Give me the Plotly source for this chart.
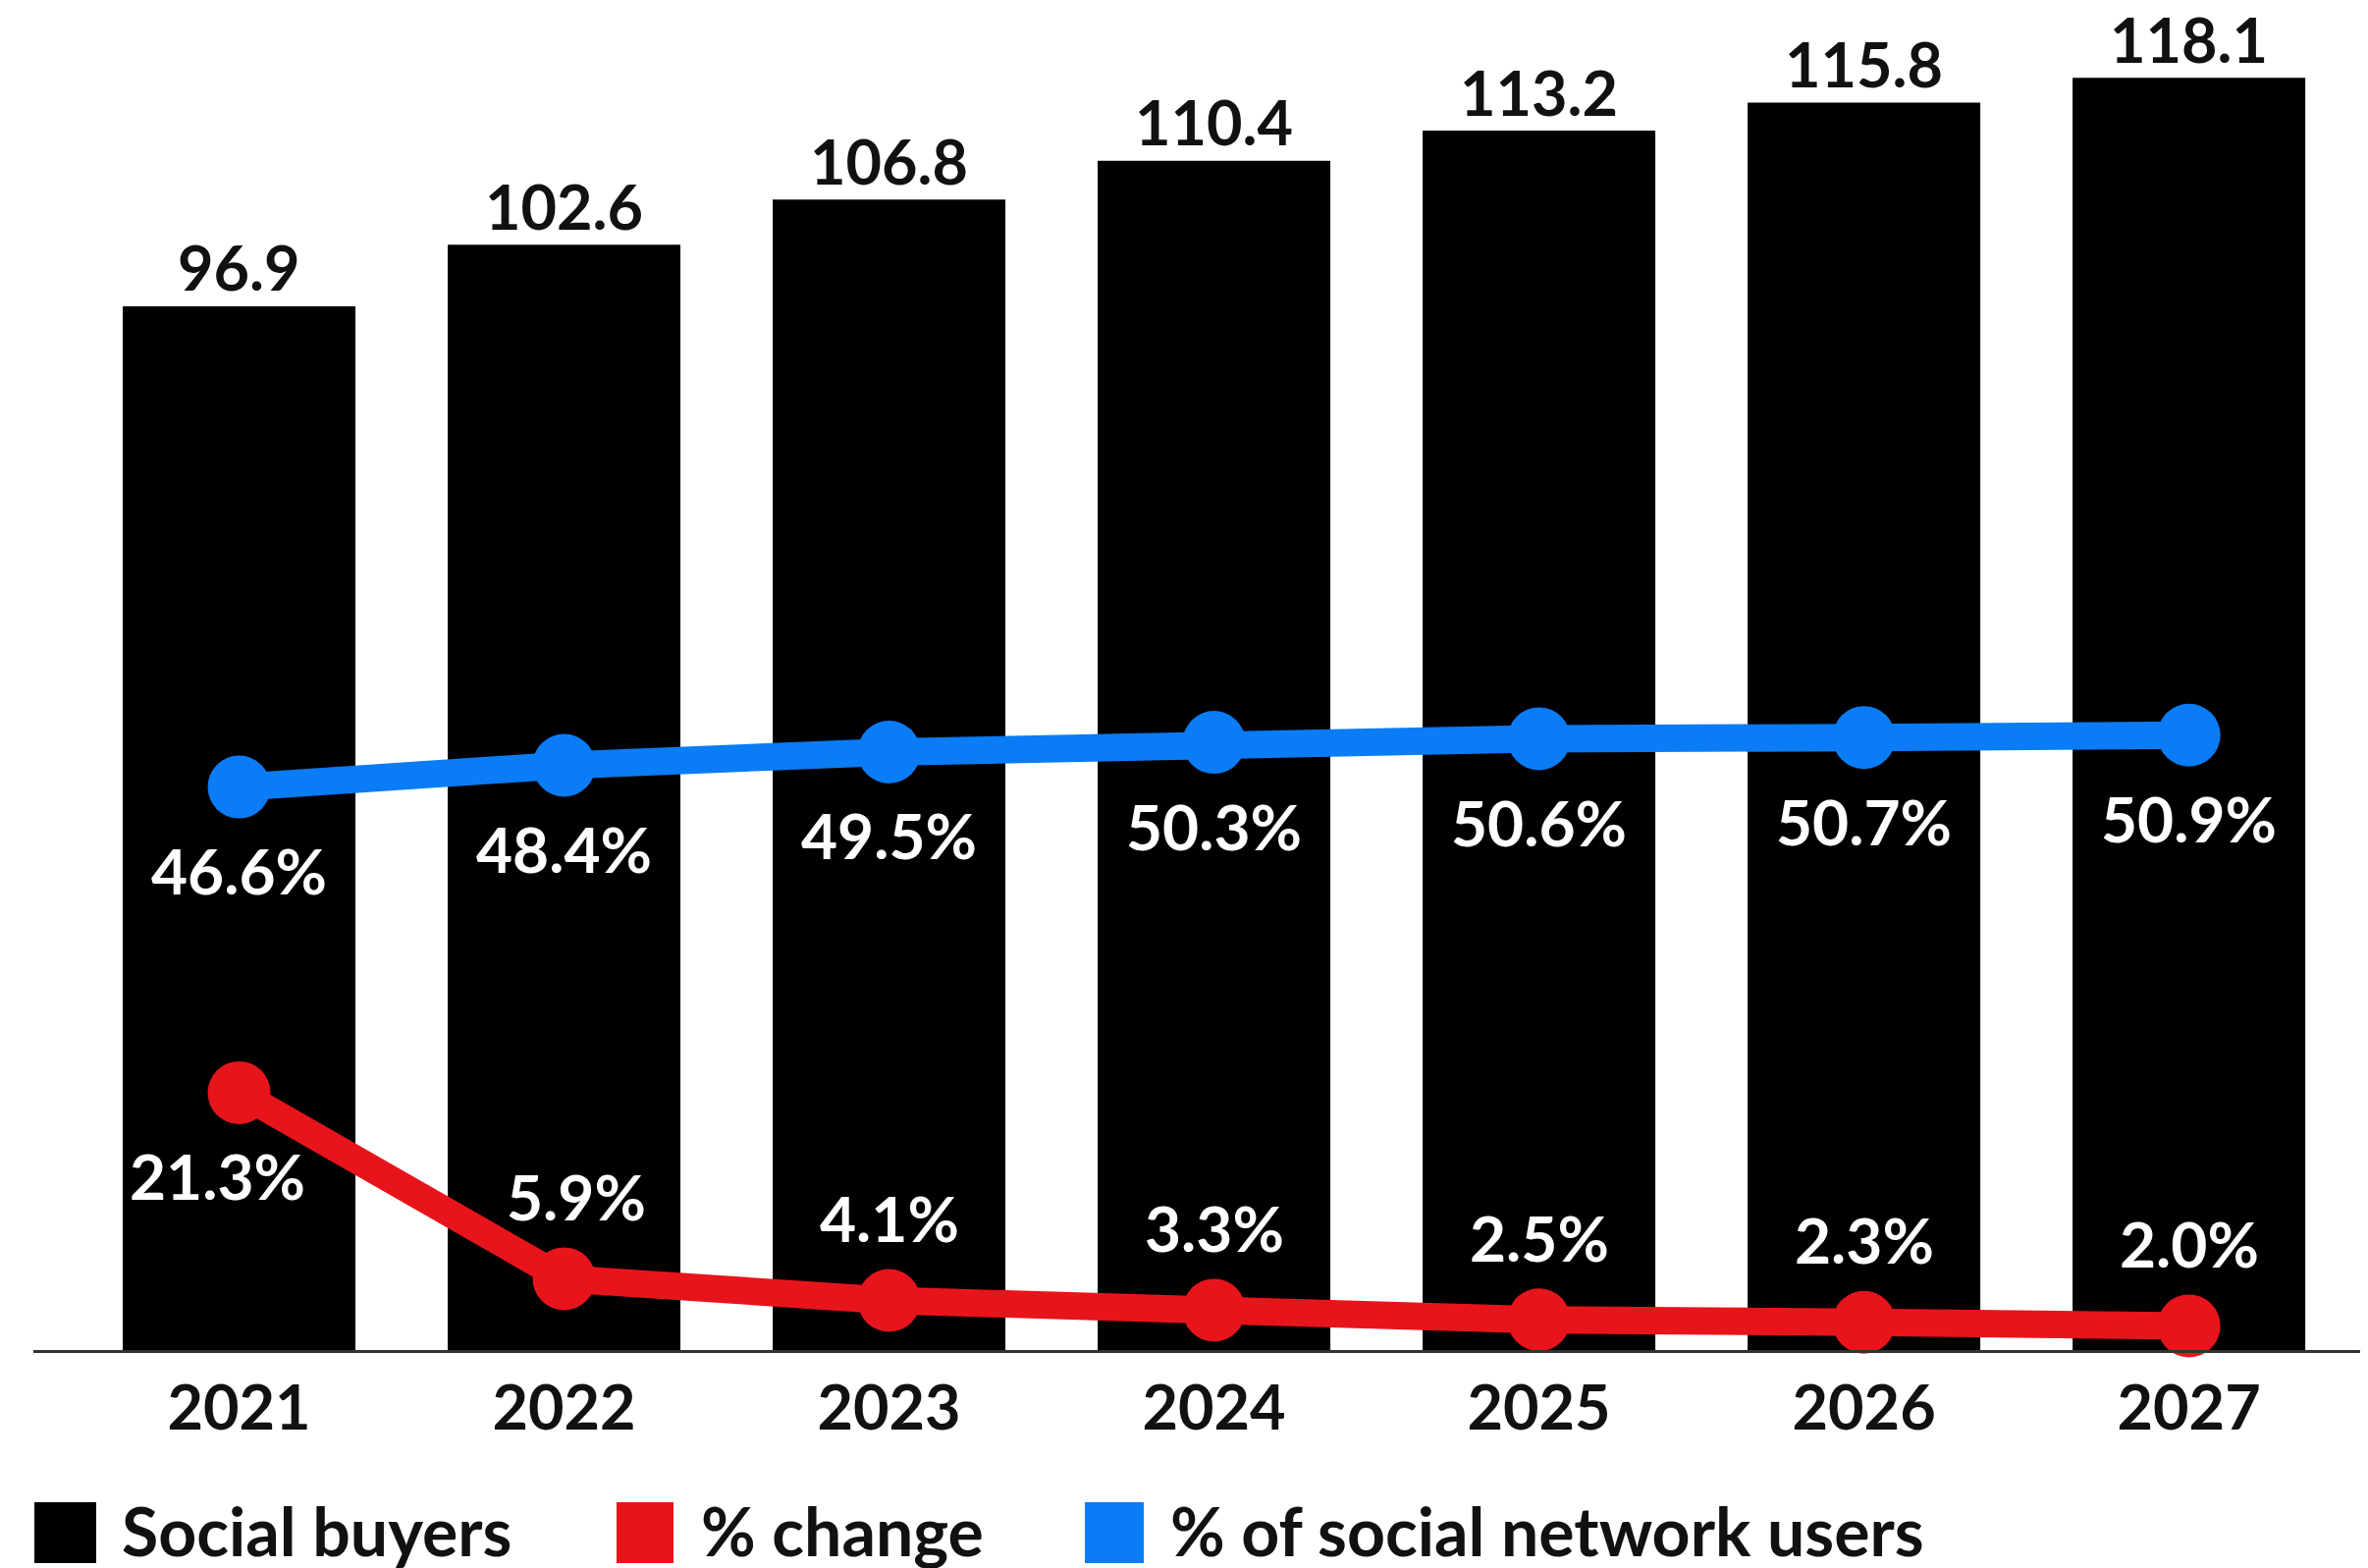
import plotly.graph_objects as go

years = ["2021", "2022", "2023", "2024", "2025", "2026", "2027"]
social_buyers = [96.9, 102.6, 106.8, 110.4, 113.2, 115.8, 118.1]
pct_change = [21.3, 5.9, 4.1, 3.3, 2.5, 2.3, 2.0]
pct_users = [46.6, 48.4, 49.5, 50.3, 50.6, 50.7, 50.9]

BLACK = "#000000"
RED = "#e8141c"
BLUE = "#0a7cf5"
FONT = "Lato"
FS = 63

xi = list(range(len(years)))

fig = go.Figure()
fig.add_trace(go.Bar(x=xi, y=social_buyers, marker=dict(color=BLACK, line=dict(width=0)),
                     width=0.716, name="Social buyers", showlegend=False))
fig.add_trace(go.Scatter(x=xi, y=pct_users, yaxis="y2", mode="lines+markers",
                         line=dict(color=BLUE, width=28), marker=dict(color=BLUE, size=64),
                         name="% of social network users", showlegend=False, cliponaxis=False))
fig.add_trace(go.Scatter(x=xi, y=pct_change, yaxis="y2", mode="lines+markers",
                         line=dict(color=RED, width=28), marker=dict(color=RED, size=64),
                         name="% change", showlegend=False, cliponaxis=False))

ann = []
for x, v in zip(xi, social_buyers):
    ann.append(dict(x=x, y=v, xref="x", yref="y", text=f"{v:.1f}", showarrow=False,
                    yanchor="middle", yshift=40, borderpad=0,
                    font=dict(family=FONT, size=FS, color="#111111", weight=700)))
for x, v in zip(xi, pct_users):
    ann.append(dict(x=x, y=v, xref="x", yref="y2", text=f"{v:.1f}%", showarrow=False,
                    yanchor="middle", yshift=-85,
                    font=dict(family=FONT, size=FS + 1, color="#ffffff", weight=700)))
for i, (x, v) in enumerate(zip(xi, pct_change)):
    if i == 0:
        ys, xs = -85, -22
    else:
        ys, xs = 84, (12 if i == 1 else 0)
    ann.append(dict(x=x, y=v, xref="x", yref="y2", text=f"{v:.1f}%", showarrow=False,
                    yanchor="middle", yshift=ys, xshift=xs,
                    font=dict(family=FONT, size=FS + 1, color="#ffffff", weight=700)))

# legend (drawn manually for large swatches); figure pixel helpers
W, Hh = 2404, 1589
L, B = 26, 222
PH = Hh - B
PW = W - L
def py(p):
    return (PH - p) / PH
def px(p):
    return (p - L) / PW

legend_items = [("Social buyers", BLACK, 27, 90, 114),
                ("% change", RED, 620, 678, 704),
                ("% of social network users", BLUE, 1097, 1157, 1182)]
shapes = []
for label, col, x0, x1, tx in legend_items:
    shapes.append(dict(type="rect", xref="paper", yref="paper", x0=px(x0), x1=px(x1),
                       y0=py(1584), y1=py(1522), fillcolor=col, line=dict(width=0)))
    ann.append(dict(xref="paper", yref="paper", x=px(tx), y=py(1550), text=label, showarrow=False,
                    xanchor="left", yanchor="middle",
                    font=dict(family=FONT, size=68, color="#111111", weight=700)))

fig.update_layout(
    width=W, height=Hh,
    margin=dict(l=L, r=0, t=0, b=B, pad=0),
    paper_bgcolor="white", plot_bgcolor="white",
    xaxis=dict(range=[-0.633, 6.551], showgrid=False, showline=True, linecolor="#333333", linewidth=3,
               ticks="", tickmode="array", tickvals=xi, ticktext=years, zeroline=False,
               tickfont=dict(family=FONT, size=FS, color="#111111", weight=700),
               ticklabelstandoff=2, fixedrange=True),
    yaxis=dict(range=[0, 124.6], visible=False, showgrid=False, zeroline=False, fixedrange=True),
    yaxis2=dict(range=[0, 111.1], overlaying="y", visible=False, showgrid=False, zeroline=False,
                fixedrange=True),
    annotations=ann, shapes=shapes, showlegend=False,
)
fig.write_html("out.html")
